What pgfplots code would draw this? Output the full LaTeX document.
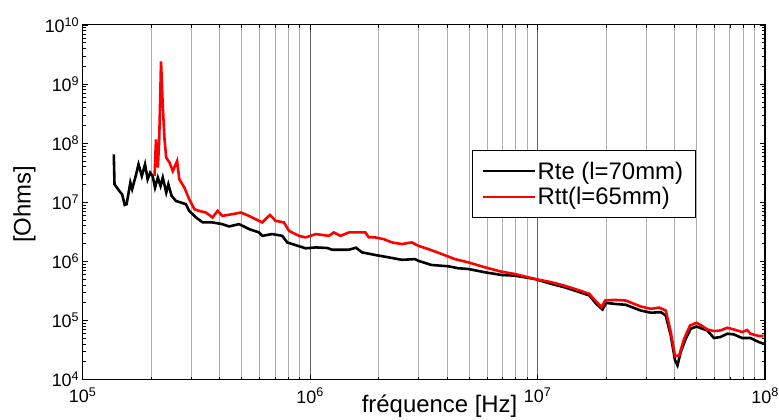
\documentclass[border=0pt]{standalone}
\usepackage{pgfplots}
\usepackage{pgfplotstable}
\pgfplotsset{compat=1.18}
\usepackage{fontspec}
\setmainfont{Liberation Sans}

% Rte (l=70mm)
\pgfplotstableread{
f R
1.37e5 6.44e7
1.38e5 2.01e7
1.45e5 1.55e7
1.49e5 1.36e7
1.53e5 9.00e6
1.56e5 9.25e6
1.62e5 2.15e7
1.65e5 1.66e7
1.71e5 2.77e7
1.76e5 4.37e7
1.82e5 2.77e7
1.88e5 4.37e7
1.93e5 2.44e7
1.98e5 3.16e7
2.03e5 2.77e7
2.08e5 1.77e7
2.14e5 2.61e7
2.20e5 1.88e7
2.25e5 2.61e7
2.33e5 1.46e7
2.38e5 2.01e7
2.46e5 1.28e7
2.57e5 1.05e7
2.70e5 9.89e6
2.84e5 9.25e6
2.94e5 7.13e6
3.15e5 5.52e6
3.37e5 4.55e6
3.72e5 4.55e6
4.11e5 4.26e6
4.40e5 3.89e6
4.87e5 4.26e6
5.39e5 3.51e6
5.96e5 3.08e6
6.16e5 2.70e6
6.81e5 2.89e6
7.54e5 2.70e6
7.93e5 2.09e6
8.63e5 1.88e6
9.55e5 1.66e6
1.06e6 1.72e6
1.19e6 1.68e6
1.25e6 1.57e6
1.48e6 1.57e6
1.59e6 1.70e6
1.69e6 1.42e6
1.93e6 1.28e6
2.21e6 1.17e6
2.53e6 1.06e6
2.89e6 1.09e6
2.99e6 1.02e6
3.42e6 8.67e5
4.05e6 8.24e5
4.48e6 7.63e5
4.95e6 7.43e5
5.86e6 6.53e5
6.93e6 5.88e5
7.93e6 5.72e5
9.70e6 5.04e5
1.15e7 4.15e5
1.31e7 3.65e5
1.50e7 3.08e5
1.69e7 2.64e5
1.81e7 1.91e5
1.93e7 1.53e5
2.00e7 1.98e5
2.17e7 1.91e5
2.44e7 1.84e5
2.84e7 1.47e5
3.15e7 1.35e5
3.48e7 1.38e5
3.66e7 1.21e5
3.85e7 5.57e4
4.02e7 2.11e4
4.12e7 1.74e4
4.26e7 2.93e4
4.48e7 4.91e4
4.71e7 7.23e4
5.00e7 7.91e4
5.30e7 7.23e4
5.57e7 6.77e4
5.96e7 5.04e4
6.37e7 5.24e4
6.82e7 5.96e4
7.29e7 5.80e4
7.93e7 5.04e4
8.63e7 5.04e4
9.38e7 4.31e4
9.86e7 4.04e4
}\rte

% Rtt (l=65mm)
\pgfplotstableread{
f R
2.07e5 2.77e7
2.10e5 1.15e8
2.14e5 3.85e7
2.17e5 1.15e8
2.21e5 2.41e9
2.25e5 4.20e8
2.29e5 1.15e8
2.33e5 5.66e7
2.41e5 4.67e7
2.49e5 3.37e7
2.60e5 4.97e7
2.66e5 2.44e7
2.80e5 1.77e7
2.94e5 1.12e7
3.10e5 7.62e6
3.25e5 7.13e6
3.48e5 6.70e6
3.72e5 5.52e6
3.92e5 7.13e6
4.11e5 5.87e6
4.55e5 6.28e6
4.95e5 6.70e6
5.39e5 5.87e6
5.76e5 5.17e6
6.16e5 4.55e6
6.66e5 6.11e6
7.05e5 4.84e6
7.67e5 4.55e6
8.07e5 3.28e6
8.92e5 2.70e6
9.55e5 2.54e6
1.06e6 2.89e6
1.21e6 2.70e6
1.27e6 3.08e6
1.36e6 2.70e6
1.48e6 3.08e6
1.75e6 3.08e6
1.81e6 2.54e6
1.93e6 2.54e6
2.10e6 2.38e6
2.29e6 2.09e6
2.53e6 1.96e6
2.80e6 2.09e6
2.99e6 1.83e6
3.31e6 1.61e6
3.79e6 1.33e6
4.33e6 1.09e6
4.95e6 9.62e5
5.86e6 7.93e5
6.93e6 6.68e5
7.93e6 6.11e5
9.70e6 5.04e5
1.15e7 4.43e5
1.31e7 3.88e5
1.50e7 3.29e5
1.69e7 2.81e5
1.81e7 2.08e5
1.91e7 1.68e5
1.98e7 2.17e5
2.17e7 2.23e5
2.44e7 2.17e5
2.84e7 1.72e5
3.15e7 1.57e5
3.42e7 1.65e5
3.66e7 1.47e5
3.85e7 6.37e4
4.02e7 2.47e4
4.19e7 2.56e4
4.41e7 4.91e4
4.68e7 8.22e4
5.00e7 9.13e4
5.30e7 8.03e4
5.57e7 7.04e4
5.96e7 6.61e4
6.37e7 6.77e4
6.82e7 7.52e4
7.29e7 7.04e4
7.93e7 6.37e4
8.34e7 6.87e4
8.63e7 5.96e4
9.38e7 5.45e4
9.86e7 5.45e4
}\rtt

\begin{document}
\begin{tikzpicture}
\path[use as bounding box] (-83pt,-40pt) rectangle (699pt,381pt);
\begin{axis}[
    at={(0,0)}, anchor=south west,
    scale only axis, width=685pt, height=356pt,
    xmode=log, ymode=log,
    xmin=1e5, xmax=1e8, ymin=1e4, ymax=1e10,
    xtick={1e5,1e6,1e7,1e8},
    xticklabels={10\textsuperscript{5},10\textsuperscript{6},10\textsuperscript{7},10\textsuperscript{8}},
    ytick={1e4,1e5,1e6,1e7,1e8,1e9,1e10},
    yticklabels={10\textsuperscript{4},10\textsuperscript{5},10\textsuperscript{6},10\textsuperscript{7},10\textsuperscript{8},10\textsuperscript{9},10\textsuperscript{10}},
    ticklabel style={font=\fontsize{18}{18}\selectfont},
    xticklabel style={yshift=-5pt},
    xmajorgrids, xminorgrids,
    major grid style={gray!75!black, line width=0.7pt},
    minor grid style={gray!65, line width=0.7pt},
    tick align=inside,
    major tick length=5pt, minor tick length=3pt,
    tick style={black, line width=0.6pt},
    axis line style={black, line width=1.2pt},
    xlabel={fréquence [Hz]},
    xlabel style={font=\fontsize{24}{24}\selectfont, at={(axis description cs:0.523,0)}, anchor=north, yshift=-12pt},
    ylabel={[Ohms]},
    ylabel style={font=\fontsize{24}{24}\selectfont, at={(axis description cs:-0.0853,0.494)}, anchor=center},
    legend style={at={(rel axis cs:0.898,0.646)}, anchor=north east,
        font=\fontsize{24}{24}\selectfont, draw=black, line width=0.8pt,
        row sep=3pt, inner xsep=10pt, inner ysep=9pt,
        nodes={inner sep=2pt}, cells={anchor=west}},
    legend image code/.code={\draw[#1, line width=1.8pt] (0pt,0pt) -- (52pt,0pt);},
]
\addplot[black, line width=2.6pt] table[x=f, y=R] {\rte};
\addplot[red, line width=2.6pt] table[x=f, y=R] {\rtt};
\legend{Rte (l=70mm), Rtt(l=65mm)}
\end{axis}
\end{tikzpicture}
\end{document}
